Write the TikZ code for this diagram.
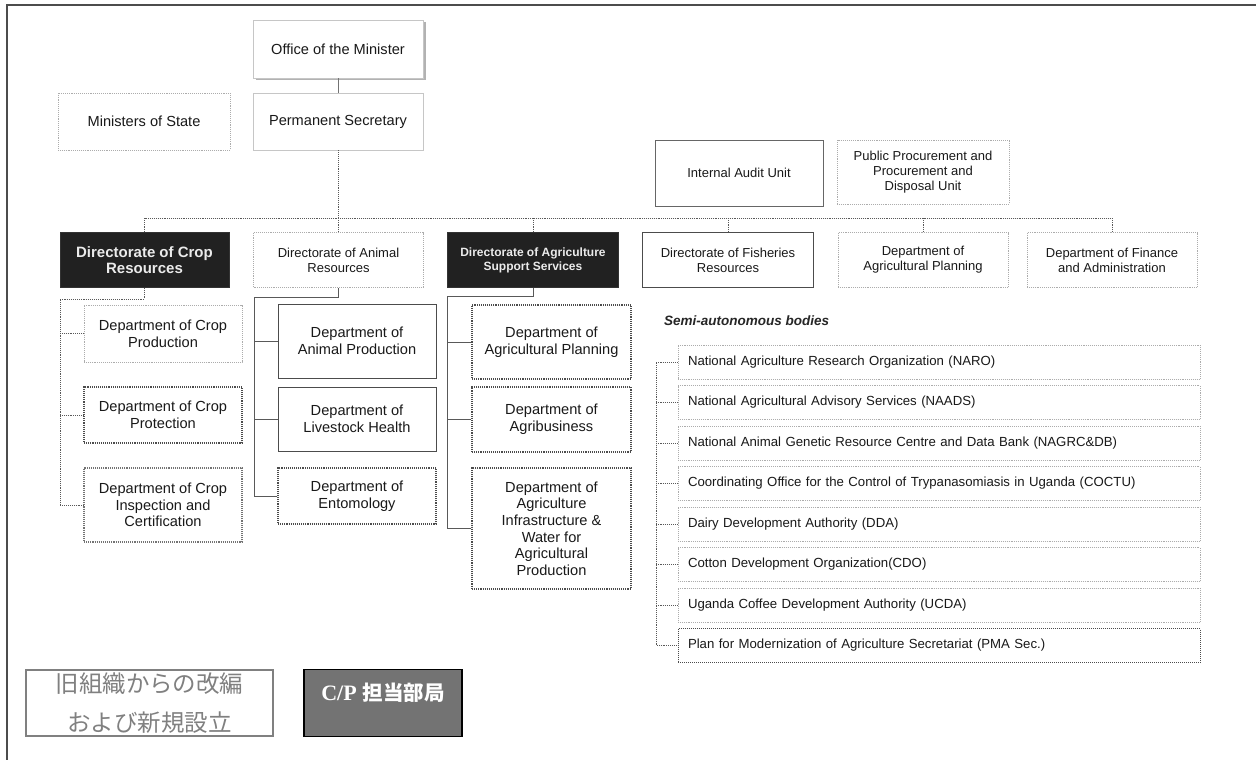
\documentclass[tikz,border=0pt]{standalone}
\usepackage{fontspec}
\setmainfont{Liberation Sans}
\newfontfamily\cjk{Noto Sans CJK JP}
\newfontfamily\serifb{Liberation Serif}
\usetikzlibrary{shadows}
\newcommand\fsz[2]{\fontsize{#1}{#2}\selectfont}
\begin{document}
\begin{tikzpicture}[x=1pt,y=-1pt,
  base/.style={rectangle, align=center, inner sep=2pt, text=black!90},
  boxL/.style={base, draw=gray!65, densely dotted, line width=0.9pt},
  boxS/.style={base, draw=gray!45, line width=0.9pt},
  boxD/.style={base, draw=black!70, line width=1pt},
  boxDd/.style={base, draw=black!70, densely dotted, line width=1.1pt},
  boxK/.style={base, fill=black!87, draw=black!80, line width=0.8pt, text=white!92!black, font=\bfseries},
  conn/.style={draw=black!65, line width=0.9pt, densely dotted},
  connS/.style={draw=black!65, line width=0.9pt},
  semi/.style={boxL, text width=502pt, align=left, inner xsep=10pt, minimum height=34, font=\fsz{13.2}{15}},
  semiD/.style={semi, boxD, text width=502pt, align=left, inner xsep=10pt},
  fbig/.style={font=\fsz{14.6}{16.6}},
  fmid/.style={font=\fsz{13}{15}},
]
\useasboundingbox (0,0) rectangle (1256,760);
\fill[white] (0,0) rectangle (1256,760);
% outer frame
\draw[black!70, line width=2pt] (7,760) -- (7,5) -- (1256,5);

% top
\node[boxS, fbig, minimum width=170, minimum height=58,
  drop shadow={shadow xshift=2.5pt, shadow yshift=-2.5pt, fill=gray!60, opacity=1}, fill=white]
  (om) at (338,49) {Office of the Minister};
\node[boxL, fbig, minimum width=172, minimum height=57] (ms) at (144,121.5) {Ministers of State};
\node[boxS, fbig, minimum width=170, minimum height=57] (ps) at (338,121.5) {Permanent Secretary};
\node[boxD, fmid, minimum width=168, minimum height=66, draw=black!60] (ia) at (739,173) {Internal Audit Unit};
\node[boxL, fmid, minimum width=172, minimum height=64] (pp) at (923,172) {Public Procurement and\\Procurement and\\Disposal Unit};

% directorates
\node[boxK, font=\bfseries\fsz{15}{16.5}, minimum width=169, minimum height=55] (dcr) at (144.5,260) {Directorate of Crop\\Resources};
\node[boxL, fmid, minimum width=170, minimum height=55] (dar) at (338.5,260) {Directorate of Animal\\Resources};
\node[boxK, font=\bfseries\fsz{12}{14}, minimum width=171, minimum height=55] (das) at (533,260) {Directorate of Agriculture\\Support Services};
\node[boxD, fmid, minimum width=171, minimum height=55] (dfr) at (728,260) {Directorate of Fisheries\\Resources};
\node[boxL, fmid, minimum width=170, minimum height=55] (dap) at (923,260) {Department of\\Agricultural Planning};
\node[boxL, fmid, minimum width=170, minimum height=55] (dfa) at (1112,260) {Department of Finance\\and Administration};

% bus
\coordinate (busL) at (144.5,218);
\coordinate (busR) at (1112,218);
\draw[connS, draw=black!55] (om) -- (ps);
\draw[conn] (ps.south) -- (ps.south |- busL);
\draw[conn] (busL) -- (busR);
\foreach \n in {dcr,dar,das,dfr,dap,dfa} \draw[conn] (\n.north) -- (\n.north |- busL);

% crop departments
\node[boxL, fbig, minimum width=158, minimum height=57] (cp1) at (163,333.5) {Department of Crop\\Production};
\node[boxDd, fbig, minimum width=158, minimum height=56] (cp2) at (163,415) {Department of Crop\\Protection};
\node[boxDd, fbig, minimum width=158, minimum height=74, draw=black!55] (cp3) at (163,505) {Department of Crop\\Inspection and\\Certification};
\coordinate (crA) at (60,299);
\draw[conn] (dcr.south) |- (crA) |- (cp3.west);
\draw[conn] (crA |- cp1.west) -- (cp1.west);
\draw[conn] (crA |- cp2.west) -- (cp2.west);

% animal departments
\node[boxD, fbig, minimum width=158, minimum height=74] (ap1) at (357,341) {Department of\\Animal Production};
\node[boxD, fbig, minimum width=158, minimum height=64] (ap2) at (357,419) {Department of\\Livestock Health};
\node[boxDd, fbig, minimum width=158, minimum height=56] (ap3) at (357,496) {Department of\\Entomology};
\coordinate (anA) at (254,297);
\draw[connS] (dar.south) |- (anA) |- (ap3.west);
\draw[connS] (anA |- ap1.west) -- (ap1.west);
\draw[connS] (anA |- ap2.west) -- (ap2.west);

% agriculture support departments
\node[boxDd, fbig, minimum width=159, minimum height=74] (ag1) at (551.5,342) {Department of\\Agricultural Planning};
\node[boxDd, fbig, minimum width=159, minimum height=65] (ag2) at (551.5,419.5) {Department of\\Agribusiness};
\node[boxDd, fbig, minimum width=159, minimum height=121] (ag3) at (551.5,528.5) {Department of\\Agriculture\\Infrastructure \&\\Water for\\Agricultural\\Production};
\coordinate (agA) at (447,296);
\draw[connS] (das.south) |- (agA) |- (ag3.west);
\draw[connS] (agA |- ag1.west) -- (ag1.west);
\draw[connS] (agA |- ag2.west) -- (ag2.west);

% semi-autonomous bodies
\node[anchor=west, inner sep=0pt, font=\bfseries\itshape\fsz{13.5}{15}, text=black!85] (sab) at (664,321) {Semi-autonomous bodies};
\node[semi] (s1) at (939,362) {National Agriculture Research Organization (NARO)};
\node[semi] (s2) at (939,402.5) {National Agricultural Advisory Services (NAADS)};
\node[semi] (s3) at (939,443) {National Animal Genetic Resource Centre and Data Bank (NAGRC\&DB)};
\node[semi] (s4) at (939,483.5) {Coordinating Office for the Control of Trypanasomiasis in Uganda (COCTU)};
\node[semi] (s5) at (939,524) {Dairy Development Authority (DDA)};
\node[semi] (s6) at (939,564.5) {Cotton Development Organization(CDO)};
\node[semi] (s7) at (939,605) {Uganda Coffee Development Authority (UCDA)};
\node[semiD] (s8) at (939,645.5) {Plan for Modernization of Agriculture Secretariat (PMA Sec.)};
\coordinate (semX) at (656,362);
\draw[conn] (s1.west) -- (s1.west -| semX) -- (s8.west -| semX) -- (s8.west);
\foreach \n in {s2,s3,s4,s5,s6,s7} \draw[conn] (\n.west) -- (\n.west -| semX);

% legend
\node[base, draw=black!50, line width=1.5pt, minimum width=247, minimum height=66, text=black!50,
  font=\cjk\fsz{23.5}{39}] (lg1) at (149.5,703) {旧組織からの改編\\および新規設立};
\node[base, fill=black!55, draw=black, line width=1.6pt, minimum width=158, minimum height=67,
  text=white, text height=14pt, text depth=19pt] (lg2) at (383,703)
  {{\serifb\bfseries\fsz{22}{24}C/P}\hspace{6pt}{\cjk\bfseries\fsz{20.5}{24}担当部局}};
\end{tikzpicture}
\end{document}
